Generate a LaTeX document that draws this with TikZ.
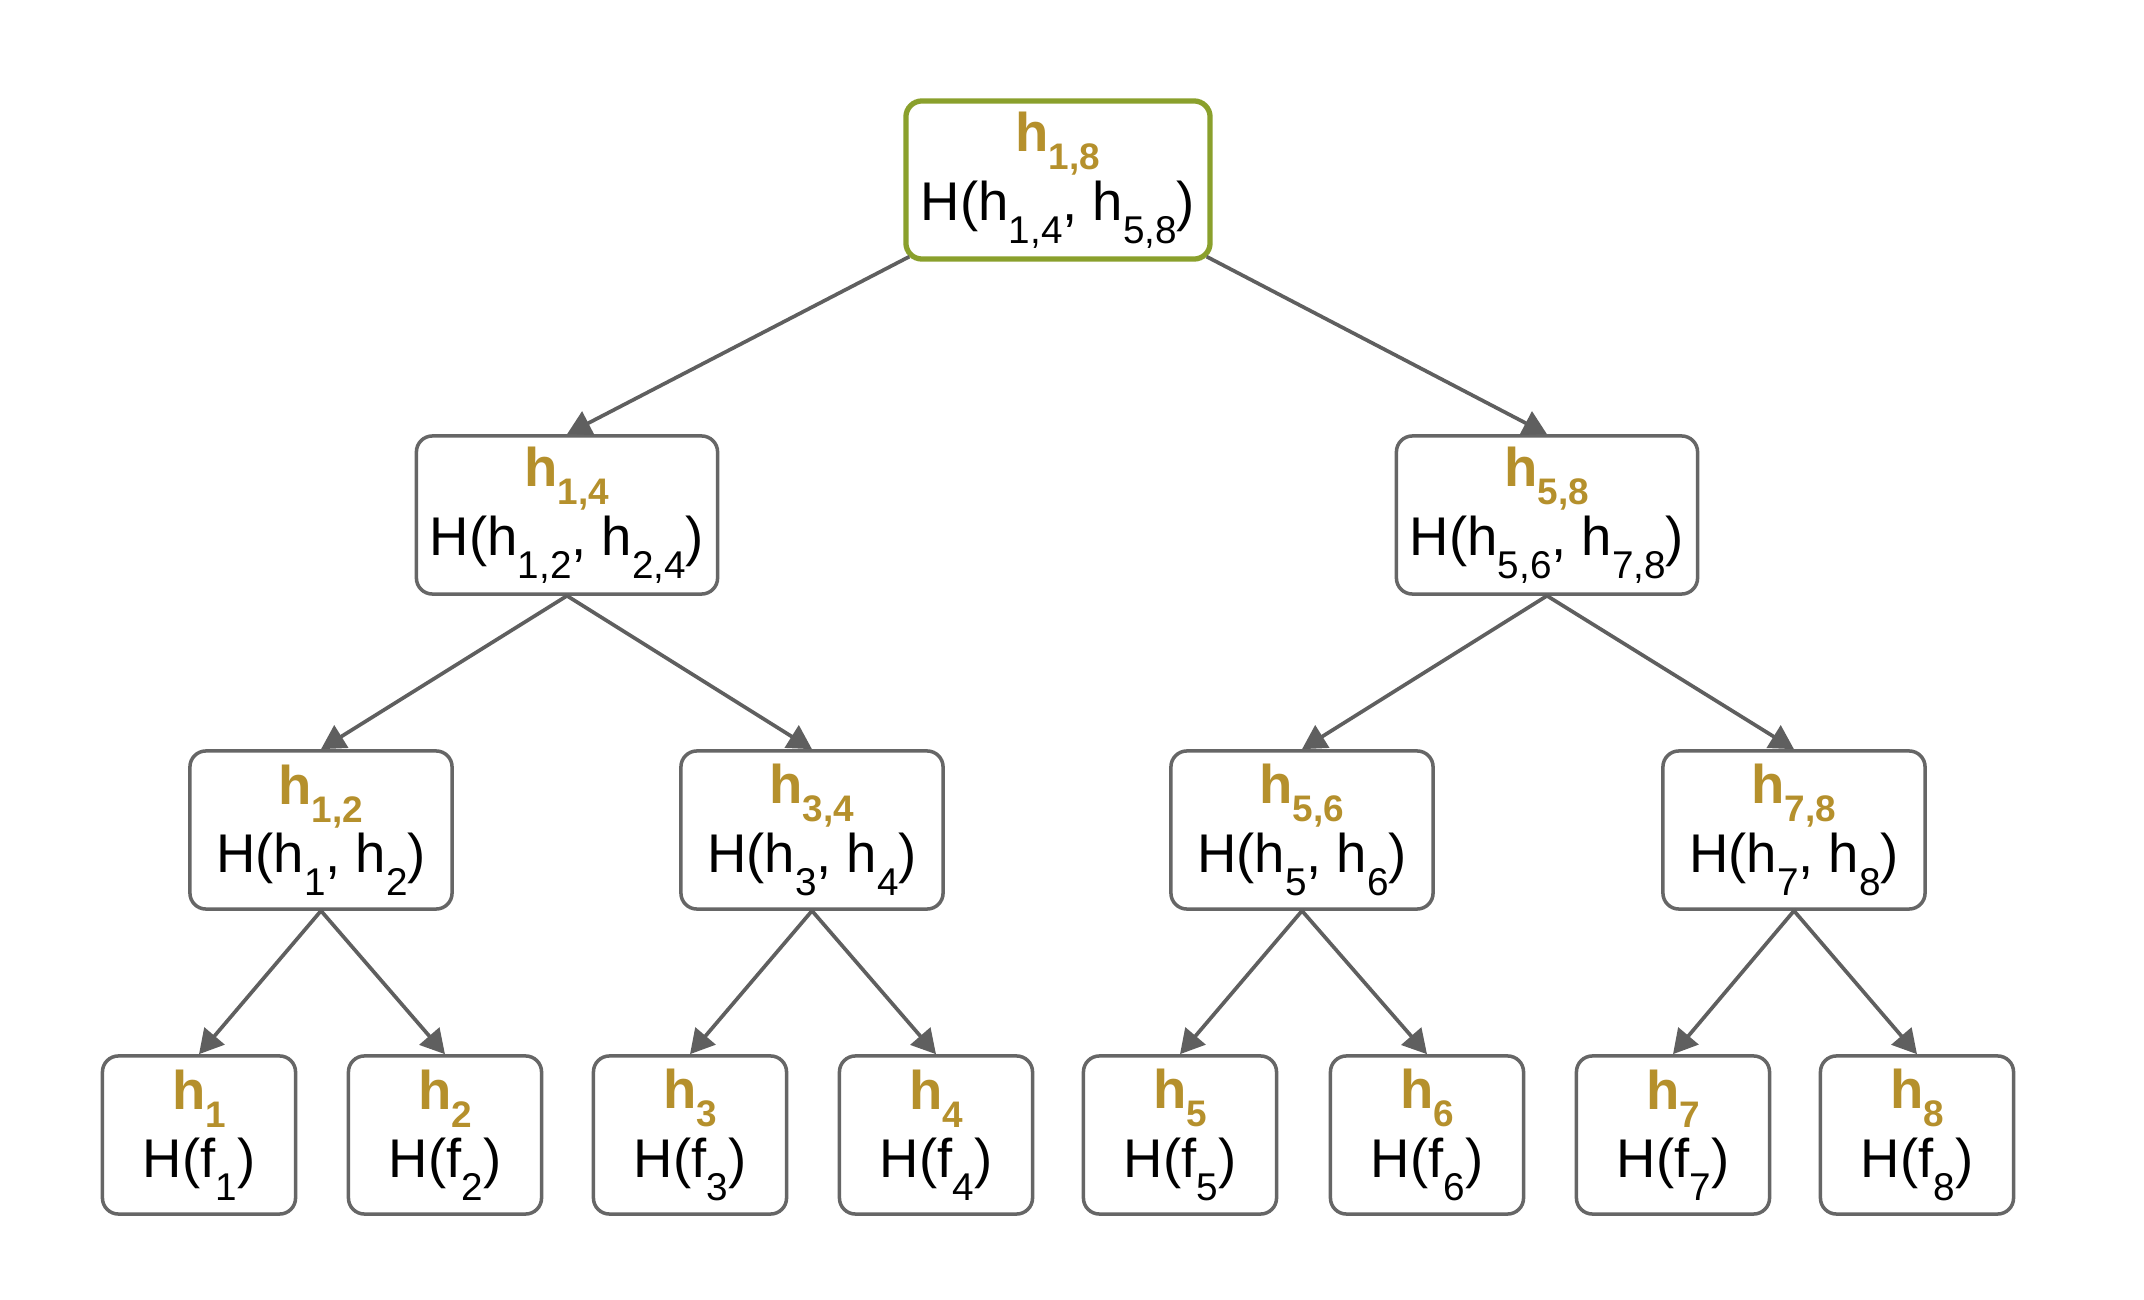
\documentclass[tikz,border=0pt]{standalone}
\usepackage{fontspec}
\setmainfont{Liberation Sans}
\usepackage{tikz}
\usetikzlibrary{arrows.meta}
\usetikzlibrary{calc}
\definecolor{hgold}{RGB}{181,144,44}
\definecolor{rootgreen}{RGB}{138,160,44}
\definecolor{boxgray}{RGB}{102,102,102}
\definecolor{edgegray}{RGB}{95,95,95}
\newcommand{\sbs}[1]{\raisebox{-0.42em}{\fontsize{11}{11}\selectfont #1}}
\newcommand{\gsbs}[1]{\raisebox{-0.33em}{\fontsize{10.5}{10.5}\selectfont #1}}
\newcommand{\hname}[1]{{\color{hgold}\bfseries h\gsbs{#1}}}
\tikzstyle{hbox}=[rectangle,rounded corners=0.16cm,draw=boxgray,line width=1pt,fill=white,align=center,inner sep=0pt,minimum height=1.58cm,font=\fontsize{15.5}{19.5}\selectfont]
\tikzstyle{rootbox}=[hbox,draw=rootgreen,line width=1.5pt]
\tikzstyle{edge} = [draw,edgegray,line width=1.05pt,-{Triangle[length=0.24cm,width=0.26cm]}]

\begin{document}
\begin{tikzpicture}[x=0.01cm,y=-0.01cm]

  \useasboundingbox (0,0) rectangle (2144,1300);

  \def\ya{180};
  \def\yb{515};
  \def\yc{830};
  \def\yd{1135};

  % top
  \node[rootbox,minimum width=3.04cm] (h18) at (1058,\ya) {\hname{1,8}\\H(h\sbs{1,4}, h\sbs{5,8})};

  % second row
  \node[hbox,minimum width=3.01cm] (h14) at (567,\yb) {\hname{1,4}\\H(h\sbs{1,2}, h\sbs{2,4})};
  \node[hbox,minimum width=3.01cm] (h58) at (1547,\yb) {\hname{5,8}\\H(h\sbs{5,6}, h\sbs{7,8})};

  % third row
  \foreach \a/\b/\x in {1/2/321, 3/4/812, 5/6/1302, 7/8/1794}
          \node[hbox,minimum width=2.62cm] (h\a\b) at (\x,\yc) {\hname{\a,\b}\\H(h\sbs{\a}, h\sbs{\b})};

  % leaves
  \foreach \i/\x in {1/199, 2/445, 3/690, 4/936, 5/1180, 6/1427, 7/1673, 8/1917}
          \node[hbox,minimum width=1.93cm] (h\i) at (\x,\yd) {\hname{\i}\\H(f\sbs{\i})};

  \path[edge] ($(h18.south west)+(6,-5)$) -- (h14.north);
  \path[edge] ($(h18.south east)+(-6,-5)$) -- (h58.north);

  \foreach \source/ \dest in {h14/h12, h14/h34, h58/h56, h58/h78, h12/h1, h12/h2, h34/h3, h34/h4, h56/h5, h56/h6, h78/h7, h78/h8}
         \path[edge] (\source.south) -- (\dest.north);

\end{tikzpicture}
\end{document}
